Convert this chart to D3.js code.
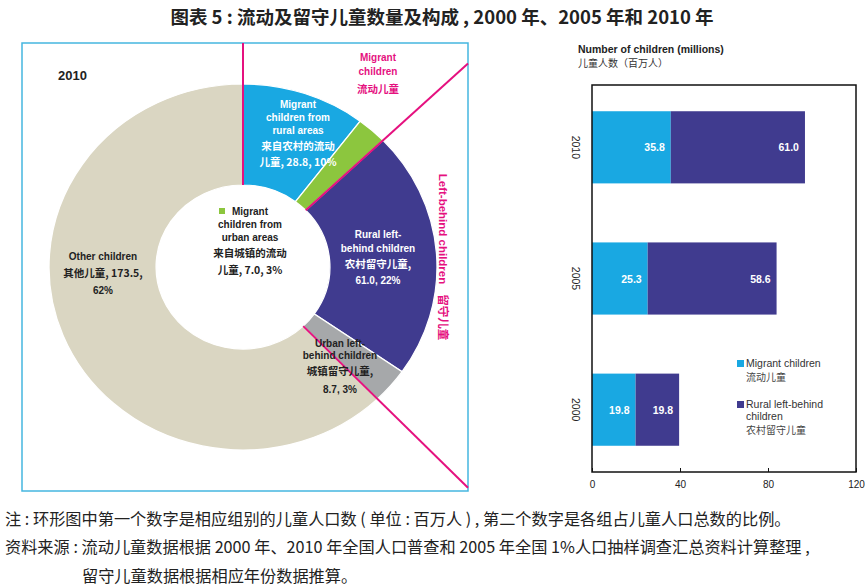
<!DOCTYPE html>
<html><head><meta charset="utf-8">
<script src="https://cdn.jsdelivr.net/npm/d3@7/dist/d3.min.js"></script>
<style>
body{margin:0;background:#fff;}
svg text{font-family:"Liberation Sans",Arial,"Noto Sans CJK SC",sans-serif;}
</style></head>
<body><svg id="c" width="865" height="587"></svg>
<script>
// ---- Data ----
const donutKeys = ["ruralMigrant","urbanMigrant","ruralLeftBehind","urbanLeftBehind","other"];
const donutValues = [28.8, 7.0, 61.0, 8.7, 173.5];
const donutPct = ["10%","3%","22%","3%","62%"];
const donutColors = ["#19a8e2","#8cc63e","#403b8f","#a6a8aa","#dad6c2"];
const years = ["2000","2005","2010"];
const migrantValues = [19.8, 25.3, 35.8];
const ruralLBValues = [19.8, 58.6, 61.0];
const xTicks = [0, 40, 80, 120];
const barColors = ["#19a8e2","#403b8f"];

const svg = d3.select("#c");
const CJK = '"Noto Sans CJK SC","Liberation Sans",sans-serif';

// Title
svg.append("text").attr("x",442).attr("y",24).attr("text-anchor","middle")
  .style("font-family",CJK).style("font-weight","bold").style("font-size","18.5px").attr("fill","#222")
  .text("图表 5 : 流动及留守儿童数量及构成 , 2000 年、2005 年和 2010 年");

// ---- Left panel ----
svg.append("rect").attr("x",22).attr("y",43).attr("width",446).attr("height",448)
  .attr("fill","none").attr("stroke","#45b6e0").attr("stroke-width",1.5);

svg.append("text").attr("x",58).attr("y",80).style("font-weight","bold").style("font-size","13px")
  .attr("fill","#222").text("2010");

const cx = 243, cy = 267, rO = 183, rI = 82, sx = 1.06;
const pie = d3.pie().sort(null).value(d=>d)(donutValues);
const arc = d3.arc().innerRadius(rI).outerRadius(rO);
const g = svg.append("g").attr("transform",`translate(${cx},${cy}) scale(${sx},1)`);
g.selectAll("path").data(pie).join("path")
  .attr("d",arc).attr("fill",(d,i)=>donutColors[i]).attr("stroke","#fff").attr("stroke-width",1.2);

// Magenta dividing lines (at segment boundaries)
const mag = "#e5117f";
function rayToBox(a){
  const dx = Math.sin(a)*sx, dy = -Math.cos(a);
  const ts = [];
  if(dx>0) ts.push((468-cx)/dx); if(dx<0) ts.push((22-cx)/dx);
  if(dy>0) ts.push((491-cy)/dy); if(dy<0) ts.push((43-cy)/dy);
  const t = Math.min(...ts);
  return [cx+dx*t, cy+dy*t];
}
[pie[0].startAngle, pie[1].endAngle, pie[3].endAngle].forEach(a=>{
  const p1=[cx+Math.sin(a)*rI*sx, cy-Math.cos(a)*rI], p2=rayToBox(a);
  svg.append("line").attr("x1",p1[0]).attr("y1",p1[1]).attr("x2",p2[0]).attr("y2",p2[1])
    .attr("stroke",mag).attr("stroke-width",2);
});

function label(x, lines, color){
  const t = svg.append("text").attr("text-anchor","middle").attr("fill",color)
    .style("font-size","10px").style("font-weight","bold");
  lines.forEach(([txt,y,cjk])=>{
    const ts = t.append("tspan").attr("x",x).attr("y",y).text(txt);
    if(cjk) ts.style("font-family",CJK).style("font-size","10.5px");
  });
  return t;
}
label(298,[["Migrant",108],["children from",121],["rural areas",134],["来自农村的流动",150,1],[`儿童, ${donutValues[0]}, ${donutPct[0]}`,166,1]],"#fff");
label(250,[["Migrant",215],["children from",228],["urban areas",241],["来自城镇的流动",257,1],[`儿童, ${donutValues[1].toFixed(1)}, ${donutPct[1]}`,274,1]],"#222");
svg.append("rect").attr("x",219).attr("y",208).attr("width",6).attr("height",6).attr("fill",donutColors[1]);
label(378,[["Rural left-",238],["behind children",252],["农村留守儿童,",268,1],[`${donutValues[2].toFixed(1)}, ${donutPct[2]}`,284]],"#fff");
label(340,[["Urban left-",347],["behind children",359],["城镇留守儿童,",375,1],[`${donutValues[3]}, ${donutPct[3]}`,393]],"#222");
label(103,[["Other children",260],[`其他儿童, ${donutValues[4]},`,277,1],[donutPct[4],294]],"#222");
label(378,[["Migrant",61],["children",75],["流动儿童",93,1]],mag);
const lb = svg.append("text").attr("transform","translate(439,257) rotate(90)").attr("text-anchor","middle")
  .attr("fill",mag).style("font-size","11.5px").style("font-weight","bold");
lb.append("tspan").text("Left-behind children");
lb.append("tspan").attr("dx",10).style("font-family",CJK).text("留守儿童");

// ---- Bar chart ----
const x = d3.scaleLinear().domain([0,120]).range([592,856]);
const y = d3.scaleBand().domain(years.slice().reverse()).range([85,472]).paddingInner(0.45).paddingOuter(0.2);

svg.append("text").attr("x",578).attr("y",53).style("font-weight","bold").style("font-size","10.5px")
  .attr("fill","#222").text("Number of children (millions)");
svg.append("text").attr("x",578).attr("y",67).style("font-family",CJK).style("font-size","10px")
  .attr("fill","#333").text("儿童人数（百万人）");

const bars = svg.append("g");
years.forEach((yr,i)=>{
  const segs = [[0, migrantValues[i]],[migrantValues[i], migrantValues[i]+ruralLBValues[i]]];
  const vals = [migrantValues[i], ruralLBValues[i]];
  segs.forEach((s,j)=>{
    bars.append("rect").attr("x",x(s[0])).attr("y",y(yr)).attr("width",x(s[1])-x(s[0]))
      .attr("height",y.bandwidth()).attr("fill",barColors[j]);
    bars.append("text").attr("x",x(s[1])-6).attr("y",y(yr)+y.bandwidth()/2+4)
      .attr("text-anchor","end").attr("fill","#fff").style("font-weight","bold").style("font-size","10.5px")
      .text(vals[j].toFixed(1));
  });
  svg.append("text").attr("transform",`translate(${572},${y(yr)+y.bandwidth()/2}) rotate(90)`)
    .attr("text-anchor","middle").style("font-size","10.5px").attr("fill","#222").text(yr);
});

svg.append("rect").attr("x",592).attr("y",85).attr("width",264).attr("height",387)
  .attr("fill","none").attr("stroke","#111").attr("stroke-width",1.5);
const ax = svg.append("g").attr("transform","translate(0,472)")
  .call(d3.axisBottom(x).tickValues(xTicks).tickSize(-4).tickPadding(9).tickFormat(d3.format("d")));
ax.select(".domain").remove();
ax.selectAll("text").style("font-size","10px").attr("fill","#222");
ax.selectAll("line").attr("stroke","#111");

// Legend
const leg = svg.append("g");
leg.append("rect").attr("x",737).attr("y",360).attr("width",7).attr("height",7).attr("fill",barColors[0]);
leg.append("text").attr("x",746).attr("y",367).style("font-size","10.5px").attr("fill","#333").text("Migrant children");
leg.append("text").attr("x",746).attr("y",381).style("font-family",CJK).style("font-size","10px").attr("fill","#444").text("流动儿童");
leg.append("rect").attr("x",737).attr("y",401).attr("width",7).attr("height",7).attr("fill",barColors[1]);
leg.append("text").attr("x",746).attr("y",408).style("font-size","10.5px").attr("fill","#333").text("Rural left-behind");
leg.append("text").attr("x",746).attr("y",420).style("font-size","10.5px").attr("fill","#333").text("children");
leg.append("text").attr("x",746).attr("y",434).style("font-family",CJK).style("font-size","10px").attr("fill","#444").text("农村留守儿童");

// Footnotes
const fn = [["注 : 环形图中第一个数字是相应组别的儿童人口数 ( 单位 : 百万人 ) , 第二个数字是各组占儿童人口总数的比例。",5,525],
  ["资料来源 : 流动儿童数据根据 2000 年、2010 年全国人口普查和 2005 年全国 1%人口抽样调查汇总资料计算整理 ,",5,553],
  ["留守儿童数据根据相应年份数据推算。",82,582]];
fn.forEach(([t,xx,yy])=>svg.append("text").attr("x",xx).attr("y",yy).style("font-family",CJK)
  .style("font-size","16.2px").attr("fill","#222").text(t));
</script></body></html>
